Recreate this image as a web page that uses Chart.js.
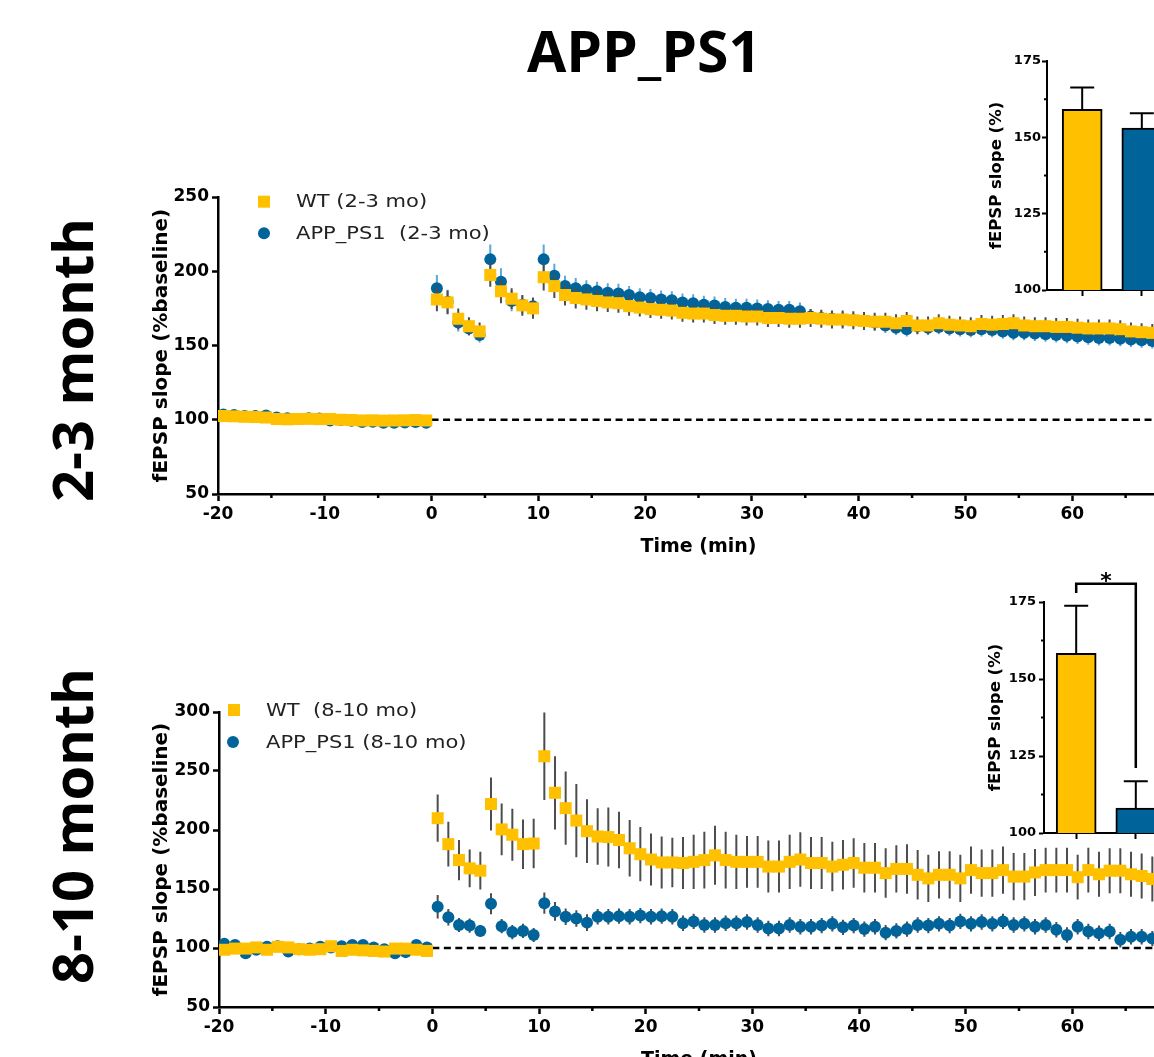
<!DOCTYPE html>
<html>
<head>
<meta charset="utf-8">
<script src="https://cdn.jsdelivr.net/npm/chart.js@4.4.1/dist/chart.umd.min.js"></script>
<style>
  html, body { margin:0; padding:0; background:#fff; width:1154px; height:1057px; overflow:hidden; }
  body { position:relative; }
  canvas { position:absolute; }
  .lbl { position:absolute; font-family:'Open Sans', sans-serif; font-weight:700; color:#000; white-space:nowrap; line-height:1; }
</style>
</head>
<body>
<div class="lbl" style="font-size:57px; left:644px; top:22px; transform:translateX(-50%);">APP_PS1</div>
<div class="lbl" style="font-size:56px; left:70.5px; top:360px; transform:translate(-50%,-50%) rotate(-90deg);">2-3 month</div>
<div class="lbl" style="font-size:56px; left:70.5px; top:826px; transform:translate(-50%,-50%) rotate(-90deg);">8-10 month</div>

<canvas id="main23" width="1200" height="420" style="left:0; top:150px;"></canvas>
<canvas id="main810" width="1200" height="423" style="left:0; top:660px;"></canvas>
<canvas id="bar23" width="240" height="290" style="left:960px; top:30px;"></canvas>
<canvas id="bar810" width="240" height="320" style="left:960px; top:540px;"></canvas>

<script>
// ---------------- DATA ----------------
const timeMin = [
  -19.5,-18.5,-17.5,-16.5,-15.5,-14.5,-13.5,-12.5,-11.5,-10.5,
  -9.5,-8.5,-7.5,-6.5,-5.5,-4.5,-3.5,-2.5,-1.5,-0.5,
  0.5,1.5,2.5,3.5,4.5,5.5,6.5,7.5,8.5,9.5,
  10.5,11.5,12.5,13.5,14.5,15.5,16.5,17.5,18.5,19.5,
  20.5,21.5,22.5,23.5,24.5,25.5,26.5,27.5,28.5,29.5,
  30.5,31.5,32.5,33.5,34.5,35.5,36.5,37.5,38.5,39.5,
  40.5,41.5,42.5,43.5,44.5,45.5,46.5,47.5,48.5,49.5,
  50.5,51.5,52.5,53.5,54.5,55.5,56.5,57.5,58.5,59.5,
  60.5,61.5,62.5,63.5,64.5,65.5,66.5,67.5
];

// 2-3 month
const wt23 = [
  102.5,102.3,102.0,101.8,101.5,100.5,100.3,100.5,100.6,100.4,
  100.5,100.0,99.8,99.5,99.6,99.4,99.5,99.6,99.8,99.5,
  181,179,168,163,159.5,197.5,186.5,181.5,177,175,
  196,190,184,182,181,180,179,178.5,176.5,175.5,
  174.5,174,173.5,172,171.5,171.5,170.5,170,170,169.5,
  169.5,168.5,168.5,168,168,168.5,168,167.5,167.5,167,
  166.5,166,166,165,166.5,163.5,163.5,165,164,163.5,
  163,164.5,164,164.5,165,163.5,163,163,162.5,162.5,
  162,161.5,161.5,161.5,161,159.5,159,158.5
];
const wt23Err = [
  1.5,1.5,1.5,1.5,1.5,1.5,1.5,1.5,1.5,1.5,
  1.5,1.5,1.5,1.5,1.5,1.5,1.5,1.5,1.5,1.5,
  8,8,7,6,6,8,8,7,7,7,
  9,8,7,7,7,7,6.5,6.5,6.5,6,
  6,6,6,6,6,6,6,6,6,6,
  6,6,6,6,6,6,6,6,6,6,
  6,6,6,6,6,6,6,6,6,6,
  6,6,6,6,6,6,6,6,6,6,
  6,6,6,6,6,6,6,6
];
const app23 = [
  103.5,103.2,102.5,102.5,102.8,101.5,101.0,100.5,101.0,100.8,
  99.5,99.8,99.4,98.5,98.6,98.0,98.0,98.2,98.5,98.0,
  188.5,179.5,165.5,161.5,157,208,193,180,177.5,176.5,
  208,197,190,188.5,187.5,186.5,185.5,185,184,182.5,
  182,181,180.5,179,178.5,177.5,177,176,175.5,175.5,
  175,174.5,174,174,173,169.5,168.5,168,167.5,167,
  166.5,165.5,163.5,162,161,163,162,162.5,161.5,161,
  160.5,161,160.5,159.5,158.5,158.5,158,157.5,157,156.5,
  156,155.5,155,155,154.5,154,153.5,153
];
const app23Err = [
  2,2,2,2,2,2,2,2,2,2,
  2,2,2,2,2,2,2,2,2,2,
  9,8,6,5,5,10,9,7,6,6,
  10,8,7,7,6.5,6.5,6.5,6.5,6,6,
  6,6,6,6,6,6,6,6,6,6,
  6,6,6,6,6,5,5,5,5,5,
  5,5,5,5,5,5,5,5,5,5,
  5,5,5,5,5,5,5,5,5,5,
  5,5,5,5,5,5,5,5
];

// 8-10 month
const wt810 = [
  98.5,99.5,99.5,100.5,98.5,101,100.5,99,98.5,99,
  101.5,97.5,98.5,98,97.5,97,99.5,99.5,98.5,97.5,
  210,188,174.5,167.5,165.5,222,200.5,196,188,188.5,
  262.5,231.5,218.5,208,199,194.5,194,191.5,184.5,179.5,
  175,172.5,172.5,172,173,174.5,178.5,174.5,173,173,
  173,169,169,173,175,172,172,169,170.5,172,
  168,168,163.5,167,167,162,159,162,162,159,
  166,163.5,163.5,166,160.5,160.5,164,166,166,166,
  160,166,162.5,165.5,165.5,162.5,161,158.5
];
const wt810Err = [
  2,2,2,2,2,2,2,2,2,2,
  2,2,2,2,2,2,2,2,2,2,
  20,19,17,16,16,22.5,22,22,21,21,
  37,31,31,31,27,24,25,24,24,23,
  22,22,21,22,23,24,25,24,23,22,
  22,22,22,23,23,22,22,21,21,21,
  21,21,21,20,21,21,20,20,20,20,
  20,20,20,20,20,20,20,19,19,19,
  19,19,19,19,19,19,19,19
];
const app810 = [
  103.5,102.5,95.5,98.5,101,101.5,97,99,99.5,101,
  100.5,101.5,102.5,102.5,100.5,99,95.5,96.5,102.5,100.5,
  135,126,119.5,119,114.5,137.5,118.5,113.5,114.5,111,
  138,131,126.5,125,121.5,126.5,126.5,127,126.5,127.5,
  126.5,127,126.5,121,122.5,119.5,119.5,121,121,122,
  119.5,116.5,116.5,119.5,118,118,119,120.5,117.5,119,
  116,118,113,114.5,116,119.5,119,120.5,119,122.5,
  120.5,122,120.5,122.5,119.5,120.5,118,119.5,115.5,111,
  118,114,112.5,114,107,109.5,109.5,108
];
const app810Err = [
  2,2,2,2,2,2,2,2,2,2,
  2,2,2,2,2,2,2,2,2,2,
  10,7,6,6,5,9,6,6,6,6,
  9,8,7,7,7,6.5,6.5,6.5,6.5,6.5,
  6.5,6.5,6.5,6.5,6.5,6.5,6.5,6.5,6.5,6.5,
  6.5,6.5,6.5,6.5,6.5,6.5,6.5,6.5,6.5,6.5,
  6.5,6.5,6.5,6.5,6.5,6.5,6.5,6.5,6.5,6.5,
  6.5,6.5,6.5,6.5,6.5,6.5,6.5,6.5,6.5,6.5,
  6.5,6.5,6.5,6.5,6.5,6.5,6.5,6.5
];

// tick labels
const xTickValues = [-20,-10,0,10,20,30,40,50,60,70];
const xMinorValues = [-15,-5,5,15,25,35,45,55,65];
const yTicks23 = [50,100,150,200,250];
const yTicks810 = [50,100,150,200,250,300];
const barYTicks = [100,125,150,175];
const barYMinor = [112.5,137.5,162.5];

// inset bars (last 10 min average)
const barGroups = ['WT', 'APP_PS1'];
const bar23 = [159.2, 153.0];
const bar23Err = [7.1, 4.9];
const bar810 = [158.3, 108.1];
const bar810Err = [15.5, 8.7];
const sigText = '*';

const legend23 = ['WT (2-3 mo)', 'APP_PS1  (2-3 mo)'];
const legend810 = ['WT  (8-10 mo)', 'APP_PS1 (8-10 mo)'];

// ---------------- STYLE ----------------
const DJ = "'DejaVu Sans', sans-serif";
const YELLOW = '#FFC000';
const BLUE = '#00649B';
const GRAY = '#4d4d4d';
const LIGHTBLUE = '#5aa8d8';

Chart.defaults.color = '#000';
Chart.defaults.font.family = DJ;

// ---------------- PLUGINS ----------------
const errorBars = {
  id: 'errorBars',
  beforeDatasetDraw(chart, args) {
    const ds = chart.data.datasets[args.index];
    if (!ds.err) return;
    const y = chart.scales.y, ctx = chart.ctx;
    ctx.save();
    ctx.strokeStyle = ds.errColor;
    ctx.lineWidth = 2;
    ctx.beginPath();
    args.meta.data.forEach((pt, i) => {
      const v = ds.data[i].y, e = ds.err[i];
      ctx.moveTo(pt.x, y.getPixelForValue(v + e));
      ctx.lineTo(pt.x, y.getPixelForValue(v - e));
    });
    ctx.stroke();
    ctx.restore();
  }
};

const refLine = {
  id: 'refLine',
  beforeDatasetsDraw(chart, args, opts) {
    if (opts.value === undefined) return;
    const x = chart.scales.x, y = chart.scales.y, ctx = chart.ctx;
    const py = y.getPixelForValue(opts.value);
    ctx.save();
    ctx.strokeStyle = '#000';
    ctx.lineWidth = 2.5;
    ctx.setLineDash([7, 4.5]);
    ctx.beginPath();
    ctx.moveTo(x.getPixelForValue(opts.from), py);
    ctx.lineTo(chart.chartArea.right, py);
    ctx.stroke();
    ctx.restore();
  }
};

const minorTicks = {
  id: 'minorTicks',
  afterDraw(chart, args, opts) {
    const ctx = chart.ctx, ca = chart.chartArea;
    ctx.save();
    ctx.strokeStyle = '#000';
    ctx.lineWidth = opts.width || 2;
    ctx.beginPath();
    (opts.x || []).forEach(v => {
      const px = chart.scales.x.getPixelForValue(v);
      ctx.moveTo(px, ca.bottom); ctx.lineTo(px, ca.bottom + opts.len);
    });
    (opts.y || []).forEach(v => {
      const py = chart.scales.y.getPixelForValue(v);
      ctx.moveTo(ca.left, py); ctx.lineTo(ca.left - opts.len, py);
    });
    ctx.stroke();
    ctx.restore();
  }
};

const manualLegend = {
  id: 'manualLegend',
  afterDraw(chart, args, opts) {
    if (!opts.items) return;
    const ctx = chart.ctx;
    ctx.save();
    opts.items.forEach((it, i) => {
      const ds = chart.data.datasets[i];
      ctx.fillStyle = ds.pointBackgroundColor;
      if (ds.pointStyle === 'rect') {
        ctx.fillRect(it.mx - 6, it.my - 6, 12, 12);
      } else {
        ctx.beginPath(); ctx.arc(it.mx, it.my, 6, 0, Math.PI * 2); ctx.fill();
      }
      ctx.fillStyle = '#222';
      ctx.font = '18.3px ' + DJ;
      ctx.textBaseline = 'middle';
      ctx.textAlign = 'left';
      ctx.save();
      ctx.translate(opts.textX, it.my);
      ctx.scale(1.15, 1);
      ctx.fillText(ds.label, 0, 1);
      ctx.restore();
    });
    ctx.restore();
  }
};

const barErrors = {
  id: 'barErrors',
  afterDatasetsDraw(chart, args, opts) {
    const ds = chart.data.datasets[0], meta = chart.getDatasetMeta(0);
    const y = chart.scales.y, ctx = chart.ctx;
    ctx.save();
    ctx.strokeStyle = '#000';
    ctx.lineWidth = 2;
    ctx.beginPath();
    meta.data.forEach((bar, i) => {
      const v = ds.data[i].y;
      const top = y.getPixelForValue(v + ds.err[i]);
      ctx.moveTo(bar.x, y.getPixelForValue(v));
      ctx.lineTo(bar.x, top);
      ctx.moveTo(bar.x - opts.cap, top);
      ctx.lineTo(bar.x + opts.cap, top);
    });
    ctx.stroke();
    ctx.restore();
  }
};

const sigBracket = {
  id: 'sigBracket',
  afterDraw(chart, args, opts) {
    if (!opts.show) return;
    const x = chart.scales.x, y = chart.scales.y, ctx = chart.ctx;
    const x0 = x.getPixelForValue(0), x1 = x.getPixelForValue(1);
    const yTop = y.getPixelForValue(opts.top);
    ctx.save();
    ctx.strokeStyle = '#000';
    ctx.lineWidth = 2.5;
    ctx.beginPath();
    ctx.moveTo(x0, y.getPixelForValue(opts.leftEnd));
    ctx.lineTo(x0, yTop);
    ctx.lineTo(x1, yTop);
    ctx.lineTo(x1, y.getPixelForValue(opts.rightEnd));
    ctx.stroke();
    ctx.fillStyle = '#000';
    ctx.font = 'bold 22px ' + DJ;
    ctx.textAlign = 'center';
    ctx.textBaseline = 'alphabetic';
    ctx.fillText(opts.text, (x0 + x1) / 2, yTop + 4);
    ctx.restore();
  }
};

// ---------------- BUILDERS ----------------
function pairs(vals) { return timeMin.map((t, i) => ({ x: t, y: vals[i] })); }

function makeMain(id, o) {
  return new Chart(document.getElementById(id), {
    type: 'scatter',
    data: {
      datasets: [
        { label: o.labels[0], data: pairs(o.wt), err: o.wtErr, errColor: GRAY,
          pointStyle: 'rect', pointRadius: 8.5, pointBorderWidth: 0,
          pointBackgroundColor: YELLOW, backgroundColor: YELLOW, borderColor: YELLOW },
        { label: o.labels[1], data: pairs(o.app), err: o.appErr, errColor: o.appErrColor,
          pointStyle: 'circle', pointRadius: 6, pointBorderWidth: 0,
          pointBackgroundColor: BLUE, backgroundColor: BLUE, borderColor: BLUE }
      ]
    },
    options: {
      responsive: false, animation: false, events: [],
      layout: { padding: { top: o.padTop, right: 21, left: 0, bottom: 0 } },
      plugins: {
        legend: { display: false }, tooltip: { enabled: false },
        refLine: { value: 100, from: 0 },
        minorTicks: { x: xMinorValues, len: 4, width: 2.5 },
        manualLegend: { items: o.legendPos, textX: o.legendTextX }
      },
      scales: {
        x: {
          type: 'linear', min: -20, max: 70,
          afterBuildTicks: s => { s.ticks = xTickValues.map(v => ({ value: v })); },
          afterFit: s => { s.height = 76; },
          border: { display: true, color: '#000', width: 2.5 },
          grid: { display: true, drawOnChartArea: false, drawTicks: true, tickLength: 7, color: '#000', tickColor: '#000', tickWidth: 2.5 },
          ticks: { color: '#000', font: { family: DJ, weight: 'bold', size: 17 }, padding: 3, maxRotation: 0, autoSkip: false },
          title: { display: true, text: 'Time (min)', color: '#000', font: { family: DJ, weight: 'bold', size: 19 }, padding: { top: 0, bottom: 12 } }
        },
        y: {
          type: 'linear', min: o.yMin, max: o.yMax,
          afterBuildTicks: s => { s.ticks = o.yTicks.map(v => ({ value: v })); },
          afterFit: s => { s.width = o.yWidth; },
          border: { display: true, color: '#000', width: 2.5 },
          grid: { display: true, drawOnChartArea: false, drawTicks: true, tickLength: 6, color: '#000', tickColor: '#000', tickWidth: 2.5 },
          ticks: { color: '#000', font: { family: DJ, weight: 'bold', size: 17 }, padding: 3 },
          title: { display: true, text: 'fEPSP slope (%baseline)', color: '#000', font: { family: DJ, weight: 'bold', size: 20 }, padding: { top: 150, bottom: 0 } }
        }
      }
    },
    plugins: [refLine, errorBars, minorTicks, manualLegend]
  });
}

function makeInset(id, o) {
  return new Chart(document.getElementById(id), {
    type: 'bar',
    data: {
      labels: barGroups,
      datasets: [{
        data: o.vals.map((v, i) => ({ x: i, y: v })), err: o.errs,
        backgroundColor: [YELLOW, BLUE], borderColor: '#000', borderWidth: 2,
        borderSkipped: false, barThickness: 40
      }]
    },
    options: {
      responsive: false, animation: false, events: [],
      layout: { padding: { top: o.padTop, right: o.padRight, left: 0, bottom: 0 } },
      plugins: {
        legend: { display: false }, tooltip: { enabled: false },
        minorTicks: { y: barYMinor, len: 3, width: 2 },
        barErrors: { cap: 12 },
        sigBracket: o.sig
      },
      scales: {
        x: {
          type: 'linear', min: o.xMin, max: o.xMax, offset: false,
          afterBuildTicks: s => { s.ticks = [{ value: 0 }, { value: 1 }]; },
          afterFit: s => { s.height = o.xH; },
          border: { display: true, color: '#000', width: 2 },
          grid: { display: true, offset: false, drawOnChartArea: false, drawTicks: true, tickLength: 6, color: '#000', tickColor: '#000', tickWidth: 2 },
          ticks: { callback: () => '', padding: 0 }
        },
        y: {
          type: 'linear', min: 100, max: 175,
          afterBuildTicks: s => { s.ticks = barYTicks.map(v => ({ value: v })); },
          afterFit: s => { s.width = o.yW; },
          border: { display: true, color: '#000', width: 2 },
          grid: { display: true, drawOnChartArea: false, drawTicks: true, tickLength: 5, color: '#000', tickColor: '#000', tickWidth: 2 },
          ticks: { color: '#000', font: { family: DJ, weight: 'bold', size: 13 }, padding: o.tickPad },
          title: { display: true, text: 'fEPSP slope (%)', color: '#000', font: { family: DJ, weight: 'bold', size: 16.5 }, padding: { top: o.titlePad, bottom: 0 } }
        }
      }
    },
    plugins: [barErrors, minorTicks, sigBracket]
  });
}

// ---------------- CHARTS ----------------
makeMain('main23', {
  wt: wt23, wtErr: wt23Err, app: app23, appErr: app23Err, appErrColor: LIGHTBLUE,
  labels: legend23, yMin: 50, yMax: 250, yTicks: yTicks23, yWidth: 218, padTop: 47,
  legendPos: [{ mx: 264, my: 51.7 }, { mx: 264, my: 83.3 }], legendTextX: 296
});
makeMain('main810', {
  wt: wt810, wtErr: wt810Err, app: app810, appErr: app810Err, appErrColor: GRAY,
  labels: legend810, yMin: 50, yMax: 300, yTicks: yTicks810, yWidth: 219, padTop: 52,
  legendPos: [{ mx: 234, my: 50 }, { mx: 233, my: 82 }], legendTextX: 266
});
makeInset('bar23', {
  vals: bar23, errs: bar23Err, padTop: 31, padRight: 23, xMin: -0.59, xMax: 1.59,
  xH: 30, yW: 87, tickPad: 1, titlePad: 27, sig: { show: false }
});
makeInset('bar810', {
  vals: bar810, errs: bar810Err, padTop: 62, padRight: 32, xMin: -0.54, xMax: 1.54,
  xH: 27, yW: 84, tickPad: 3, titlePad: 26,
  sig: { show: true, top: 180.9, leftEnd: 177.9, rightEnd: 121.1, text: sigText }
});
</script>
</body>
</html>
